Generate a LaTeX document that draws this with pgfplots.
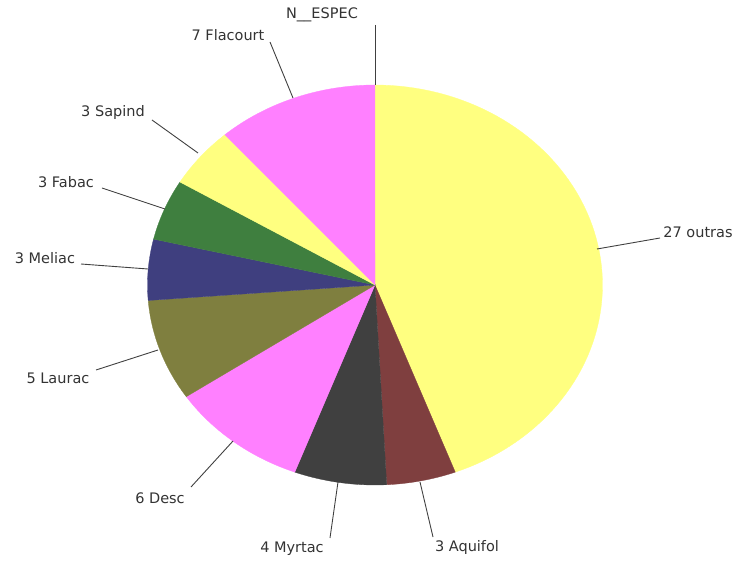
\documentclass[border=0pt]{standalone}
\usepackage{pgfplots}
\pgfplotsset{compat=1.18}
\usepackage{fontspec}
\setmainfont{DejaVu Sans}
\definecolor{cY}{HTML}{FFFF80}
\definecolor{cBr}{HTML}{7F3F3F}
\definecolor{cGr}{HTML}{404040}
\definecolor{cMa}{HTML}{FF80FF}
\definecolor{cOl}{HTML}{7F7F3F}
\definecolor{cBl}{HTML}{3F3F7F}
\definecolor{cGn}{HTML}{3F7F3F}
\definecolor{cTx}{HTML}{333333}
\begin{document}
\begin{tikzpicture}
\begin{axis}[scale only axis, width=737bp, height=561bp,
  xmin=0, xmax=737, ymin=0, ymax=561, hide axis, clip=false,
  every axis plot/.append style={samples=80, variable=\t, line width=0.3pt}]
\path (rel axis cs:0,0) rectangle (rel axis cs:1,1);
% counts: 27 outras, 3 Aquifol, 4 Myrtac, 6 Desc, 5 Laurac, 3 Meliac, 3 Fabac, 3 Sapind, 7 Flacourt, 0 N__ESPEC (total 61)
\addplot[draw=cY, fill=cY, domain=0:27] ({375+227.5*sin(\t*360/61)}, {276+200*cos(\t*360/61)}) -- (axis cs:375,276) -- cycle;
\addplot[draw=cBr, fill=cBr, domain=27:30] ({375+227.5*sin(\t*360/61)}, {276+200*cos(\t*360/61)}) -- (axis cs:375,276) -- cycle;
\addplot[draw=cGr, fill=cGr, domain=30:34] ({375+227.5*sin(\t*360/61)}, {276+200*cos(\t*360/61)}) -- (axis cs:375,276) -- cycle;
\addplot[draw=cMa, fill=cMa, domain=34:40] ({375+227.5*sin(\t*360/61)}, {276+200*cos(\t*360/61)}) -- (axis cs:375,276) -- cycle;
\addplot[draw=cOl, fill=cOl, domain=40:45] ({375+227.5*sin(\t*360/61)}, {276+200*cos(\t*360/61)}) -- (axis cs:375,276) -- cycle;
\addplot[draw=cBl, fill=cBl, domain=45:48] ({375+227.5*sin(\t*360/61)}, {276+200*cos(\t*360/61)}) -- (axis cs:375,276) -- cycle;
\addplot[draw=cGn, fill=cGn, domain=48:51] ({375+227.5*sin(\t*360/61)}, {276+200*cos(\t*360/61)}) -- (axis cs:375,276) -- cycle;
\addplot[draw=cY, fill=cY, domain=51:54] ({375+227.5*sin(\t*360/61)}, {276+200*cos(\t*360/61)}) -- (axis cs:375,276) -- cycle;
\addplot[draw=cMa, fill=cMa, domain=54:61] ({375+227.5*sin(\t*360/61)}, {276+200*cos(\t*360/61)}) -- (axis cs:375,276) -- cycle;
% leader lines
\draw[cGr, line width=0.9pt] (axis cs:375,536) -- (axis cs:375,476);
\draw[cGr, line width=0.9pt] (axis cs:270,519) -- (axis cs:293,463);
\draw[cGr, line width=0.9pt] (axis cs:152,441) -- (axis cs:198,408);
\draw[cGr, line width=0.9pt] (axis cs:102,373) -- (axis cs:165,352);
\draw[cGr, line width=0.9pt] (axis cs:81,297) -- (axis cs:148,292);
\draw[cGr, line width=0.9pt] (axis cs:96,191) -- (axis cs:158,211);
\draw[cGr, line width=0.9pt] (axis cs:191,74) -- (axis cs:233,120);
\draw[cGr, line width=0.9pt] (axis cs:330,23) -- (axis cs:338,79);
\draw[cGr, line width=0.9pt] (axis cs:433,24) -- (axis cs:420,79);
\draw[cGr, line width=0.9pt] (axis cs:597,312) -- (axis cs:660,323);
% labels
\tikzset{lab/.style={text=cTx, font=\fontsize{14.5bp}{16bp}\selectfont, inner sep=0pt, anchor=center}}
\node[lab] at (axis cs:322,546) {N\_\_ESPEC};
\node[lab] at (axis cs:228,526) {7 Flacourt};
\node[lab] at (axis cs:113,448) {3 Sapind};
\node[lab] at (axis cs:66,379) {3 Fabac};
\node[lab] at (axis cs:45,303) {3 Meliac};
\node[lab] at (axis cs:58,183) {5 Laurac};
\node[lab] at (axis cs:160,63) {6 Desc};
\node[lab] at (axis cs:292,12) {4 Myrtac};
\node[lab] at (axis cs:467,14) {3 Aquifol};
\node[lab] at (axis cs:698,329) {27 outras};
\end{axis}
\end{tikzpicture}
\end{document}
